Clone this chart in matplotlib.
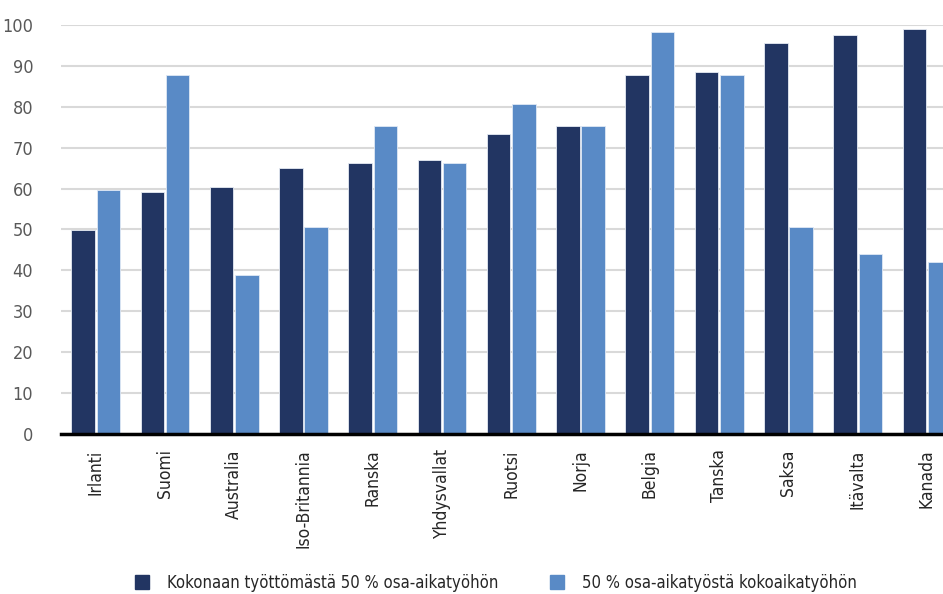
import numpy as np
import matplotlib.pyplot as plt
from matplotlib.lines import Line2D

plt.rcParams['font.family'] = ['DejaVu Sans']
plt.rcParams['font.stretch'] = 'condensed'

maat = ['Irlanti', 'Suomi', 'Australia', 'Iso-Britannia', 'Ranska', 'Yhdysvallat',
        'Ruotsi', 'Norja', 'Belgia', 'Tanska', 'Saksa', 'Itävalta', 'Kanada']
tyottomasta_osa = [49.9, 59.1, 60.4, 65.0, 66.2, 66.9, 73.4, 75.4, 87.7, 88.4, 95.5, 97.6, 98.9]
osasta_koko = [59.7, 87.7, 38.8, 50.6, 75.4, 66.2, 80.6, 75.4, 98.3, 87.7, 50.6, 44.0, 42.0]
sarjat = ['Kokonaan työttömästä 50 % osa-aikatyöhön',
          '50 % osa-aikatyöstä kokoaikatyöhön']

c_tumma = '#223562'
c_vaalea = '#598ac6'

fig = plt.figure(figsize=(9.43, 5.94), dpi=100)
ax = fig.add_axes([0.0647, 0.2694, 0.955, 0.6886])

x = np.arange(len(maat))
w = 0.34
ax.bar(x - 0.1825, tyottomasta_osa, w, color=c_tumma, edgecolor='#e6ebf3', linewidth=0.6, zorder=3)
ax.bar(x + 0.1825, osasta_koko, w, color=c_vaalea, edgecolor='#dfe8f5', linewidth=0.6, zorder=3)

ax.set_xlim(-0.5, 12.5)
ax.set_ylim(0, 100)
ax.set_yticks(np.arange(0, 101, 10))
ax.yaxis.grid(True, color='#d9d9d9', linewidth=1.5, zorder=0)
ax.set_axisbelow(True)

for s in ['top', 'right', 'left']:
    ax.spines[s].set_visible(False)
ax.spines['bottom'].set_color('black')
ax.spines['bottom'].set_linewidth(2.5)
ax.spines['bottom'].set_zorder(4)

ax.set_xticks(x)
ax.set_xticklabels(maat, rotation=90, fontsize=12.5, color='#262626')
ax.tick_params(axis='x', length=0, pad=11)
ax.tick_params(axis='y', length=0, labelsize=13, labelcolor='#595959', pad=20)

kahvat = [Line2D([], [], marker='s', linestyle='none', markersize=10, color=c)
          for c in (c_tumma, c_vaalea)]
fig.legend(kahvat, sarjat, loc='lower center', bbox_to_anchor=(0.521, -0.022), ncol=2,
           frameon=False, fontsize=12, columnspacing=2.5, handletextpad=0.5,
           labelcolor='#262626')

plt.savefig('out.png', dpi=100)
